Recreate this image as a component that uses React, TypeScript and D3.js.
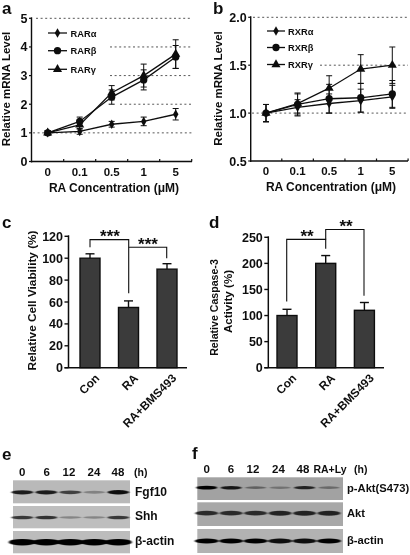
import React from "react";
import * as d3 from "d3";

const font = "'Liberation Sans', Arial, sans-serif";

const doses = ["0", "0.1", "0.5", "1", "5"];
const rarA = [1, 1.05, 1.3, 1.4, 1.65];
const rarAErr = [0.07, 0.1, 0.1, 0.15, 0.2];
const rarB = [1, 1.4, 2.25, 2.85, 3.65];
const rarBErr = [0.07, 0.15, 0.25, 0.35, 0.4];
const rarG = [1, 1.28, 2.4, 3.0, 3.75];
const rarGErr = [0.07, 0.15, 0.25, 0.4, 0.5];
const rxrA = [1, 1.06, 1.1, 1.13, 1.17];
const rxrAErr = [0.09, 0.08, 0.1, 0.12, 0.12];
const rxrB = [1, 1.09, 1.15, 1.16, 1.2];
const rxrBErr = [0.09, 0.12, 0.15, 0.15, 0.14];
const rxrG = [1, 1.1, 1.26, 1.46, 1.5];
const rxrGErr = [0.09, 0.1, 0.13, 0.15, 0.19];
const aTicks = [0, 1, 2, 3, 4, 5];
const bTicks = [0.5, 1.0, 1.5, 2.0];

const treatments = ["Con", "RA", "RA+BMS493"];
const viability = [100, 55, 90];
const viabilityErr = [4, 6, 5];
const caspase = [100, 200, 110];
const caspaseErr = [12, 15, 15];
const cTicks = [0, 20, 40, 60, 80, 100, 120];
const dTicks = [0, 50, 100, 150, 200, 250];

const eLanes = ["0", "6", "12", "24", "48"];
const fLanes = ["0", "6", "12", "24", "48", "RA+Ly"];
const eFgf10 = [0.85, 0.85, 0.65, 0.3, 0.95];
const eShh = [0.7, 0.75, 0.3, 0.3, 0.7];
const eActin = [1, 1, 1, 1, 1];
const fPAkt = [1, 0.85, 0.4, 0.3, 0.8, 0.35];
const fAkt = [0.75, 0.75, 0.75, 0.8, 0.8, 0.8];
const fActin = [1, 1, 1, 0.95, 0.95, 1];

const symbolSize = { diamond: 26, circle: 42, triangle: 36 };
const sym = (kind: "diamond" | "circle" | "triangle") =>
  d3
    .symbol()
    .type(kind === "diamond" ? d3.symbolDiamond : kind === "circle" ? d3.symbolCircle : d3.symbolTriangle)
    .size(symbolSize[kind])() as string;

type Series = { name: string; values: number[]; err: number[]; kind: "diamond" | "circle" | "triangle" };

function LinePanel(props: {
  series: Series[];
  x0: number;
  x1: number;
  xs: [number, number];
  y0: number;
  y1: number;
  domain: [number, number];
  ticks: number[];
  fmt: (v: number) => string;
  grid: [number, number][];
  legendX: number;
  legendText: number;
  legendW: number;
  legendY: number[];
  titleX: number;
  yTitleX: number;
  yTitleY: number;
}) {
  const { series, x0, x1, xs, y0, y1, domain, ticks, fmt, grid } = props;
  const x = d3.scalePoint<string>().domain(doses).range(xs);
  const y = d3.scaleLinear().domain(domain).range([y0, y1]);
  const step = x.step();
  const line = d3
    .line<number>()
    .x((_, i) => x(doses[i]) as number)
    .y((d) => y(d));
  return (
    <g fontFamily={font} fontWeight="bold" fill="#111">
      {grid.map(([v, start]) => (
        <line key={v} x1={start} x2={x1} y1={y(v)} y2={y(v)} stroke="#444" strokeWidth={0.9} strokeDasharray="2 2.6" />
      ))}
      {series.map((s) => (
        <g key={s.name}>
          <path d={line(s.values) as string} fill="none" stroke="#111" strokeWidth={1.3} />
          {s.values.map((v, i) => {
            const cx = x(doses[i]) as number;
            return (
              <g key={i} stroke="#111" strokeWidth={1}>
                <line x1={cx} x2={cx} y1={y(v - s.err[i])} y2={y(v + s.err[i])} />
                <line x1={cx - 3} x2={cx + 3} y1={y(v + s.err[i])} y2={y(v + s.err[i])} />
                <line x1={cx - 3} x2={cx + 3} y1={y(v - s.err[i])} y2={y(v - s.err[i])} />
                <path d={sym(s.kind)} transform={`translate(${cx},${y(v)})`} stroke="none" />
              </g>
            );
          })}
        </g>
      ))}
      <line x1={x0} x2={x0} y1={y1 - 1} y2={y0 + 1} stroke="#111" strokeWidth={1.4} />
      <line x1={x0} x2={x1} y1={y0} y2={y0} stroke="#111" strokeWidth={1.4} />
      {ticks.map((t) => (
        <g key={t}>
          <line x1={x0 - 2.5} x2={x0} y1={y(t)} y2={y(t)} stroke="#111" strokeWidth={1.2} />
          <text x={x0 - 4} y={y(t) + 4.5} textAnchor="end" fontSize={12.5}>
            {fmt(t)}
          </text>
        </g>
      ))}
      {doses.map((d) => (
        <g key={d}>
          <line
            x1={(x(d) as number) + step / 2}
            x2={(x(d) as number) + step / 2}
            y1={y0}
            y2={y0 - 2.5}
            stroke="#111"
            strokeWidth={1.2}
          />
          <text x={x(d)} y={y0 + 14} textAnchor="middle" fontSize={11.5}>
            {d}
          </text>
        </g>
      ))}
      <text x={props.titleX} y={y0 + 30} textAnchor="middle" fontSize={12}>
        RA Concentration (μM)
      </text>
      <text
        transform={`translate(${props.yTitleX},${props.yTitleY}) rotate(-90)`}
        textAnchor="middle"
        fontSize={11.5}
      >
        Relative mRNA Level
      </text>
      {series.map((s, i) => (
        <g key={s.name}>
          <line
            x1={props.legendX}
            x2={props.legendX + props.legendW}
            y1={props.legendY[i]}
            y2={props.legendY[i]}
            stroke="#111"
            strokeWidth={1.3}
          />
          <path d={sym(s.kind)} transform={`translate(${props.legendX + props.legendW / 2},${props.legendY[i]})`} />
          <text x={props.legendText} y={props.legendY[i] + 3.5} fontSize={9.3}>
            {s.name}
          </text>
        </g>
      ))}
    </g>
  );
}

function BarPanel(props: {
  values: number[];
  err: number[];
  ticks: number[];
  x0: number;
  x1: number;
  first: number;
  step: number;
  y0: number;
  y1: number;
  max: number;
}) {
  const { values, err, ticks, x0, x1, first, step, y0, y1, max } = props;
  const y = d3.scaleLinear().domain([0, max]).range([y0, y1]);
  const x = d3
    .scalePoint<string>()
    .domain(treatments)
    .range([first, first + 2 * step]);
  const bw = 20;
  return (
    <g fontFamily={font} fontWeight="bold" fill="#111">
      {values.map((v, i) => {
        const cx = x(treatments[i]) as number;
        return (
          <g key={i}>
            <line x1={cx} x2={cx} y1={y(v)} y2={y(v + err[i])} stroke="#111" strokeWidth={1.4} />
            <line x1={cx - 4.5} x2={cx + 4.5} y1={y(v + err[i])} y2={y(v + err[i])} stroke="#111" strokeWidth={1.4} />
            <rect x={cx - bw / 2} y={y(v)} width={bw} height={y0 - y(v)} fill="#3a3a3a" stroke="#111" strokeWidth={1.4} />
            <text
              transform={`translate(${cx + 8},${y0 + 9}) rotate(-45)`}
              textAnchor="end"
              fontSize={11.8}
              dominantBaseline="middle"
            >
              {treatments[i]}
            </text>
          </g>
        );
      })}
      <line x1={x0} x2={x0} y1={y1 - 1} y2={y0} stroke="#111" strokeWidth={1.5} />
      <line x1={x0 - 4} x2={x1} y1={y0} y2={y0} stroke="#111" strokeWidth={1.5} />
      {ticks.map((t) => (
        <g key={t}>
          <line x1={x0 - 4} x2={x0} y1={y(t)} y2={y(t)} stroke="#111" strokeWidth={1.4} />
          <text x={x0 - 5.5} y={y(t) + 4.5} textAnchor="end" fontSize={12.5}>
            {t}
          </text>
        </g>
      ))}
    </g>
  );
}

function Blot(props: {
  lanes: string[];
  values: number[];
  laneRange: [number, number];
  x: number;
  w: number;
  y: number;
  h: number;
  bg: string;
  bandW: number;
  bandH: number;
  bandShift: number;
}) {
  const { lanes, values, laneRange, x, w, y, h, bg, bandW, bandH, bandShift } = props;
  const lane = d3.scalePoint<string>().domain(lanes).range(laneRange);
  const shade = d3.scaleLinear<string>().domain([0, 1]).range([bg, "#000000"]);
  return (
    <g>
      <rect x={x} y={y} width={w} height={h} fill={bg} />
      <g filter="url(#bandBlur)">
        {values.map((v, i) => (
          <ellipse
            key={i}
            cx={lane(lanes[i]) as number}
            cy={y + h / 2 + bandShift}
            rx={bandW / 2}
            ry={(bandH * (0.5 + v * 0.5)) / 2}
            fill={shade(v)}
          />
        ))}
      </g>
    </g>
  );
}

const Label = (p: { x: number; y: number; size?: number; children: React.ReactNode; anchor?: string }) => (
  <text
    x={p.x}
    y={p.y}
    fontFamily={font}
    fontWeight="bold"
    fontSize={p.size ?? 11.5}
    fill="#111"
    textAnchor={p.anchor ?? "start"}
  >
    {p.children}
  </text>
);

export default function App() {
  const cY = d3.scaleLinear().domain([0, 120]).range([367.7, 236.3]);
  const dY = d3.scaleLinear().domain([0, 250]).range([367.7, 237.3]);
  const bracket = "#111";
  return (
    <svg
      width={410}
      height={555}
      viewBox="0 0 410 555"
      style={{ position: "absolute", left: 0, top: 0, background: "#fff" }}
    >
      <defs>
        <filter id="bandBlur" x="-10%" y="-100%" width="120%" height="300%">
          <feGaussianBlur stdDeviation="1.2 0.7" />
        </filter>
        <filter id="soft" x="0" y="0" width="100%" height="100%">
          <feGaussianBlur stdDeviation="0.3" />
        </filter>
      </defs>
      <g filter="url(#soft)">
        <LinePanel
          series={[
            { name: "RARα", values: rarA, err: rarAErr, kind: "diamond" },
            { name: "RARβ", values: rarB, err: rarBErr, kind: "circle" },
            { name: "RARγ", values: rarG, err: rarGErr, kind: "triangle" },
          ]}
          x0={31.5}
          x1={192}
          xs={[47.7, 175.7]}
          y0={161.5}
          y1={18.3}
          domain={[0, 5]}
          ticks={aTicks}
          fmt={(v) => String(v)}
          grid={[
            [5, 36],
            [4, 110],
            [3, 110],
            [2, 120],
            [1, 33],
          ]}
          legendX={48}
          legendText={70.5}
          legendW={19}
          legendY={[33, 50.7, 69.3]}
          titleX={114}
          yTitleX={9.5}
          yTitleY={89}
        />
        <LinePanel
          series={[
            { name: "RXRα", values: rxrA, err: rxrAErr, kind: "diamond" },
            { name: "RXRβ", values: rxrB, err: rxrBErr, kind: "circle" },
            { name: "RXRγ", values: rxrG, err: rxrGErr, kind: "triangle" },
          ]}
          x0={250.7}
          x1={408}
          xs={[266, 392.3]}
          y0={161}
          y1={17.3}
          domain={[0.5, 2]}
          ticks={bTicks}
          fmt={(v) => v.toFixed(1)}
          grid={[
            [2, 253],
            [1.5, 320],
            [1, 252],
          ]}
          legendX={267}
          legendText={288}
          legendW={18}
          legendY={[31, 47.5, 64.5]}
          titleX={331}
          yTitleX={222}
          yTitleY={88.5}
        />
        <BarPanel
          values={viability}
          err={viabilityErr}
          ticks={cTicks}
          x0={68.5}
          x1={187}
          first={90}
          step={38.5}
          y0={367.7}
          y1={236.3}
          max={120}
        />
        <BarPanel
          values={caspase}
          err={caspaseErr}
          ticks={dTicks}
          x0={268.3}
          x1={384}
          first={287}
          step={38.7}
          y0={367.7}
          y1={237.3}
          max={250}
        />

        <g fill="none" stroke={bracket} strokeWidth={1.1}>
          <path d={`M90,${cY(110)} V${cY(117)} H128.7 V${cY(68)}`} />
          <path d={`M128.7,${cY(110)} H166.7 V${cY(100)}`} />
          <path d={`M286.7,${dY(127)} V${dY(246)} H325.7 V${dY(228)}`} />
          <path d={`M325.7,${dY(246)} V${dY(265)} H364 V${dY(138)}`} />
        </g>
        <Label x={110} y={242} size={17} anchor="middle">***</Label>
        <Label x={148} y={249.5} size={17} anchor="middle">***</Label>
        <Label x={307} y={242} size={17} anchor="middle">**</Label>
        <Label x={346} y={232} size={17} anchor="middle">**</Label>

        <g fontFamily={font} fontWeight="bold" fill="#111" textAnchor="middle">
          <text transform="translate(36,300.5) rotate(-90)" fontSize={11.8}>Relative Cell Viability (%)</text>
          <text transform="translate(218,307.5) rotate(-90)" fontSize={10.6}>Relative Caspase-3</text>
          <text transform="translate(231.7,301.5) rotate(-90)" fontSize={11.6}>Activity (%)</text>
        </g>

        <Label x={2} y={13.5} size={17}>a</Label>
        <Label x={213} y={13.5} size={17}>b</Label>
        <Label x={2} y={228} size={17}>c</Label>
        <Label x={209} y={228} size={17}>d</Label>
        <Label x={2} y={460} size={17}>e</Label>
        <Label x={192} y={459} size={17}>f</Label>

        {eLanes.map((l, i) => (
          <Label key={l} x={[22.3, 46.7, 69, 94, 118][i]} y={476} anchor="middle">{l}</Label>
        ))}
        <Label x={134} y={476} size={10.5}>(h)</Label>
        {fLanes.map((l, i) => (
          <Label key={l} x={[206.7, 231, 253, 278.5, 303, 330][i]} y={473} size={i === 5 ? 10.5 : 11.5} anchor="middle">{l}</Label>
        ))}
        <Label x={354} y={473} size={10.5}>(h)</Label>

        <Label x={135} y={496} size={12}>Fgf10</Label>
        <Label x={135} y={520} size={12}>Shh</Label>
        <Label x={135} y={545} size={12}>β-actin</Label>
        <Label x={347} y={492} size={11.2}>p-Akt(S473)</Label>
        <Label x={347} y={517} size={11.2}>Akt</Label>
        <Label x={347} y={544} size={11.2}>β-actin</Label>
      </g>

      <Blot lanes={eLanes} values={eFgf10} laneRange={[22.3, 118.3]} x={13} w={117} y={480.3} h={23} bg="#b9b9b9" bandW={22} bandH={4.5} bandShift={0.5} />
      <Blot lanes={eLanes} values={eShh} laneRange={[22.3, 118.3]} x={13} w={117} y={506} h={22.3} bg="#bebebe" bandW={22} bandH={4} bandShift={0.3} />
      <Blot lanes={eLanes} values={eActin} laneRange={[22.3, 118.3]} x={13} w={117} y={531} h={22.3} bg="#bcbcbc" bandW={27} bandH={6.5} bandShift={0} />
      <Blot lanes={fLanes} values={fPAkt} laneRange={[206.7, 329]} x={197.3} w={145.7} y={477.3} h={22.7} bg="#a2a2a2" bandW={21} bandH={3.8} bandShift={-1} />
      <Blot lanes={fLanes} values={fAkt} laneRange={[206.7, 329]} x={197.3} w={145.7} y={502.3} h={23.7} bg="#a8a8a8" bandW={23} bandH={5.5} bandShift={-1} />
      <Blot lanes={fLanes} values={fActin} laneRange={[206.7, 329]} x={197.3} w={145.7} y={529} h={24} bg="#b2b2b2" bandW={24} bandH={5} bandShift={0} />
    </svg>
  );
}
